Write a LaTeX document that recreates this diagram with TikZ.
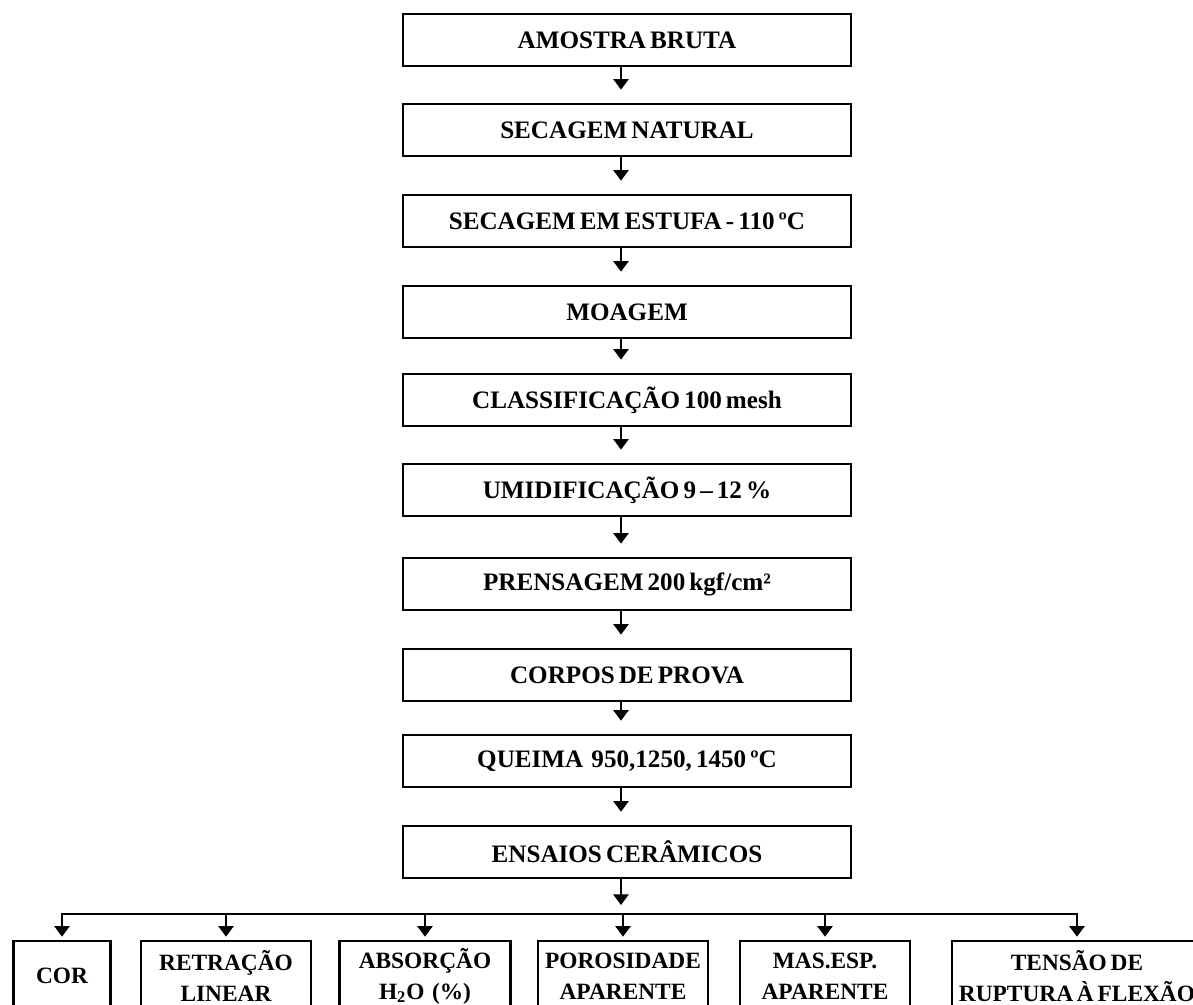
\documentclass[tikz,border=0pt]{standalone}
\usepackage{fontspec}
\setmainfont{Liberation Serif}[WordSpace=0.65]
\usetikzlibrary{arrows.meta}

\begin{document}
\begin{tikzpicture}[x=0.02cm, y=-0.02cm,
        etapa/.style={draw, line width=1.5pt, minimum width=8.96cm, minimum height=1.04cm, inner sep=0pt,
            font=\fontsize{14.3}{17.6}\selectfont\bfseries},
        ensaio/.style={draw, line width=1.5pt, minimum height=1.4cm, inner sep=0pt, align=center,
            font=\fontsize{13.3}{17.6}\selectfont\bfseries},
        fluxo/.style={line width=1.3pt, -{Triangle[width=8.5pt,length=6pt]}}]

                \useasboundingbox (0,0) rectangle (1193,1004);
                \coordinate (spine) at (621,0);
                \coordinate (bus) at (621,914);

                % etapas da preparacao
                \node [etapa] (amostra)   at (627, 40)  {AMOSTRA BRUTA};
                \node [etapa] (secnat)    at (627, 130) {SECAGEM NATURAL};
                \node [etapa] (estufa)    at (627, 221) {SECAGEM EM ESTUFA - 110 ºC};
                \node [etapa] (moagem)    at (627, 312) {MOAGEM};
                \node [etapa] (classif)   at (627, 400) {CLASSIFICAÇÃO 100 mesh};
                \node [etapa] (umid)      at (627, 490) {UMIDIFICAÇÃO 9 – 12 \%};
                \node [etapa] (prensagem) at (627, 584) {PRENSAGEM 200 kgf/cm²};
                \node [etapa] (corpos)    at (627, 675) {CORPOS DE PROVA};
                \node [etapa] (queima)    at (627, 761) {QUEIMA\ \ 950,1250, 1450 ºC};
                \node [etapa] (ensaios)   at (627, 852) {ENSAIOS CERÂMICOS};

                \foreach \a/\b in {amostra/secnat, secnat/estufa, estufa/moagem, moagem/classif,
                        classif/umid, umid/prensagem, prensagem/corpos, corpos/queima, queima/ensaios}{
                    \draw [fluxo, shorten >=0.26cm] (\a.south -| spine) -- (\b.north -| spine);
                }

                % ensaios ceramicos
                \node [ensaio, minimum width=1.94cm] (cor)        at (62, 976)   {COR};
                \node [ensaio, minimum width=3.4cm]  (retracao)   at (226, 976)  {RETRAÇÃO\\LINEAR};
                \node [ensaio, minimum width=3.42cm] (absorcao)   at (425, 976)  {ABSORÇÃO\\H\textsubscript{2}O\ \ (\%)};
                \node [ensaio, minimum width=3.4cm]  (porosidade) at (623, 976)  {POROSIDADE\\APARENTE};
                \node [ensaio, minimum width=3.4cm]  (massa)      at (825, 976)  {MAS.ESP.\\APARENTE};
                \node [ensaio, minimum width=5cm]    (tensao)     at (1077, 976) {TENSÃO DE\\RUPTURA À FLEXÃO};

                \draw [fluxo, shorten >=0.18cm] (ensaios.south -| spine) -- (bus);
                \draw [line width=1.3pt, line cap=rect] (cor.north |- bus) -- (tensao.north |- bus);
                \foreach \b in {cor, retracao, absorcao, porosidade, massa, tensao}{
                    \draw [fluxo, shorten >=0.06cm] (\b.north |- bus) -- (\b.north);
                }

\end{tikzpicture}
\end{document}
